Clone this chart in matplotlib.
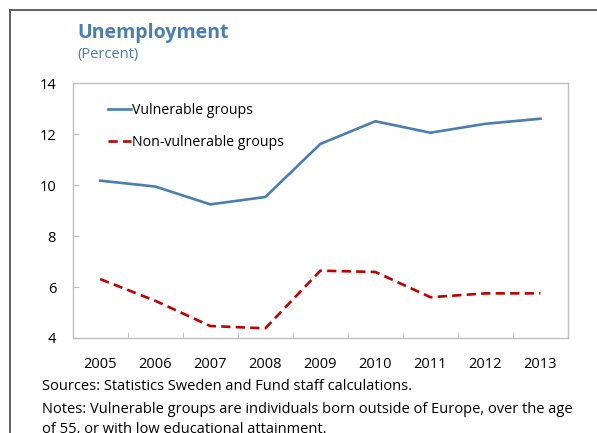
#!/usr/bin/env python3
"""Unemployment: vulnerable vs non-vulnerable groups, Sweden 2005-2013."""

import numpy as np
import matplotlib
matplotlib.use("Agg")
import matplotlib.pyplot as plt
from matplotlib.lines import Line2D

plt.rcParams["font.family"] = ["Open Sans", "DejaVu Sans"]

years = ["2005", "2006", "2007", "2008", "2009", "2010", "2011", "2012", "2013"]
vulnerable = [10.17, 9.94, 9.24, 9.53, 11.61, 12.50, 12.05, 12.40, 12.60]
non_vulnerable = [6.31, 5.46, 4.47, 4.38, 6.64, 6.59, 5.60, 5.75, 5.75]

BLUE = "#4a7eb0"
RED = "#c00000"
GRAY = "#bfbfbf"

fig = plt.figure(figsize=(5.97, 4.33), dpi=100)
ax = fig.add_axes([0.1218, 0.2194, 0.8296, 0.5889])

x = np.arange(len(years))
ax.plot(x, vulnerable, color=BLUE, lw=1.9, label="Vulnerable groups")
ax.plot(x, non_vulnerable, color=RED, lw=1.9, dashes=(3.5, 2),
        label="Non-vulnerable groups")

ax.set_xlim(-0.5, len(years) - 0.5)
ax.set_ylim(4, 14)
ax.set_yticks(range(4, 15, 2))
ax.set_xticks(x)
ax.set_xticklabels(years)
ax.set_xticks(np.arange(0.5, len(years) - 1, 1), minor=True)

for s in ax.spines.values():
    s.set_color(GRAY)
    s.set_linewidth(1.0)

ax.tick_params(axis="x", which="major", length=0, pad=14, labelsize=10.5)
ax.tick_params(axis="x", which="minor", direction="in", length=4, color=GRAY)
ax.tick_params(axis="y", direction="in", length=4, color=GRAY, pad=12,
               labelsize=10.5)

leg = ax.legend(loc="upper left", bbox_to_anchor=(0.06, 0.945), frameon=False,
                fontsize=10.2, handlelength=1.6, handletextpad=0.1,
                labelspacing=1.25, borderaxespad=0)

fig.text(0.129, 0.924, "Unemployment", fontsize=14, fontweight="bold",
         color=BLUE, va="center")
fig.text(0.129, 0.873, "(Percent)", fontsize=10.5, color=BLUE, va="center")

fig.text(0.070, 0.108, "Sources: Statistics Sweden and Fund staff calculations.",
         fontsize=10.5, va="center")
fig.text(0.070, 0.054,
         "Notes: Vulnerable groups are individuals born outside of Europe, over the age",
         fontsize=10.5, va="center")
fig.text(0.070, 0.008, "of 55, or with low educational attainment.",
         fontsize=10.5, va="center")

# outer frame (left and top edges visible)
fig.add_artist(Line2D([0.016, 0.016], [0, 0.976], color="#555555", lw=1.3))
fig.add_artist(Line2D([0.016, 1.0], [0.976, 0.976], color="#555555", lw=1.3))

fig.savefig("out.png", dpi=100)
